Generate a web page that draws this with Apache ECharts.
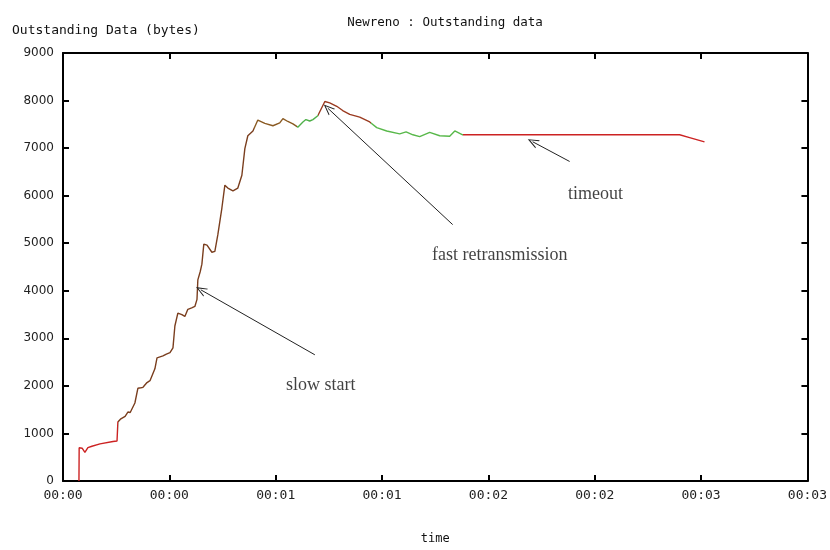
<!DOCTYPE html>
<html>
<head>
<meta charset="utf-8">
<script src="https://cdn.jsdelivr.net/npm/echarts@6/dist/echarts.min.js"></script>
<style>
  html, body { margin: 0; padding: 0; background: #fff; }
  #chart { width: 830px; height: 550px; }
</style>
</head>
<body>
<div id="chart"></div>
<script>
// Outstanding data over time for a Newreno TCP flow
const timeSec = [
  0.075, 0.076, 0.090, 0.103, 0.117, 0.136, 0.174, 0.235, 0.254, 0.258,
  0.270, 0.277, 0.292, 0.301, 0.305, 0.316, 0.324, 0.338, 0.352, 0.366,
  0.376, 0.395, 0.409, 0.432, 0.442, 0.456, 0.470, 0.486, 0.503, 0.517,
  0.526, 0.540, 0.559, 0.573, 0.587, 0.605, 0.620, 0.630, 0.634, 0.645,
  0.653, 0.662, 0.677, 0.700, 0.714, 0.728, 0.747, 0.761, 0.775, 0.799,
  0.822, 0.841, 0.855, 0.869, 0.893, 0.916, 0.949, 0.987, 1.019, 1.034,
  1.057, 1.081, 1.104, 1.128, 1.142, 1.160, 1.175, 1.198, 1.207, 1.231,
  1.254, 1.287, 1.315, 1.348, 1.395, 1.442, 1.475, 1.522, 1.583, 1.613,
  1.645, 1.677, 1.724, 1.771, 1.818, 1.842, 1.879, 2.899, 2.946, 3.016
];
const bytes = [
  0, 700, 690, 600, 700, 730, 780, 830, 840, 1240,
  1300, 1330, 1360, 1380, 1450, 1440, 1460, 1640, 1950, 1960,
  1970, 2070, 2110, 2360, 2590, 2610, 2630, 2670, 2700, 2800,
  3260, 3530, 3500, 3460, 3610, 3640, 3670, 3820, 4230, 4400,
  4560, 4980, 4960, 4810, 4830, 5180, 5740, 6220, 6160, 6100,
  6160, 6430, 6990, 7260, 7360, 7590, 7520, 7470, 7530, 7620,
  7560, 7510, 7440, 7550, 7600, 7570, 7600, 7680, 7650, 7980,
  7950, 7880, 7790, 7710, 7650, 7550, 7430, 7360, 7300, 7340,
  7280, 7240, 7330, 7260, 7250, 7360, 7280, 7280, 7220, 7130
];

// Tick settings
const xTicks = { min: 0, max: 3.5, step: 0.5 };
const yTicks = { min: 0, max: 9000, step: 1000 };

// Annotation text and arrows: [tailTime, tailBytes, tipTime, tipBytes]
const noteNames = ['slow start', 'fast retransmission', 'timeout'];
const noteTime = [1.212, 2.053, 2.504];
const noteBytes = [2010, 4740, 6020];
const arrowLines = [
  [1.184, 2654, 0.648, 4020],
  [1.832, 5392, 1.245, 7839],
  [2.382, 6719, 2.208, 7134]
];

// Colour bands along the trace
const bandEdges = [0.26, 0.9, 1.1, 1.2, 1.45, 1.88];
const bandColors = ['#cc2222', '#7a3e1e', '#8a5a22', '#4fb04a', '#9a3a20', '#58b84a', '#cc2222'];

const points = timeSec.map((t, i) => [t, bytes[i]]);

function fmtTime(v) {
  const s = Math.floor(v + 1e-9);
  const m = Math.floor(s / 60);
  const pad = n => (n < 10 ? '0' : '') + n;
  return pad(m) + ':' + pad(s % 60);
}

const pieces = [];
for (let i = 0; i < bandColors.length; i++) {
  const p = { color: bandColors[i] };
  if (i > 0) p.gte = bandEdges[i - 1];
  if (i < bandEdges.length) p.lt = bandEdges[i];
  pieces.push(p);
}

const arrowHead = 'path://M5,0 L10,11 L8.8,11 L5,2.6 L1.2,11 L0,11 Z';

const chart = echarts.init(document.getElementById('chart'), null, { renderer: 'canvas' });

const monoFont = 'DejaVu Sans Mono';
const frameLine = { show: true, onZero: false, lineStyle: { color: '#000', width: 2 } };
const tickInside = { show: true, inside: true, length: 6, lineStyle: { color: '#000', width: 2 } };

chart.setOption({
  animation: false,
  backgroundColor: '#fff',
  title: {
    text: 'Newreno : Outstanding data',
    left: 440, top: 11, textAlign: 'center',
    textStyle: { fontFamily: monoFont, fontSize: 12.5, fontWeight: 'normal', color: '#111' }
  },
  grid: { left: 63, right: 22, top: 53, bottom: 63, containLabel: false },
  graphic: [
    {
      type: 'text', left: 12, top: 24,
      style: { text: 'Outstanding Data (bytes)', font: '13px "DejaVu Sans Mono"', fill: '#111' }
    }
  ],
  visualMap: {
    show: false, type: 'piecewise', dimension: 0, seriesIndex: 0, pieces: pieces
  },
  xAxis: [
    {
      type: 'value', position: 'bottom',
      min: xTicks.min, max: xTicks.max, interval: xTicks.step,
      name: 'time', nameLocation: 'middle', nameGap: 52,
      nameTextStyle: { fontFamily: monoFont, fontSize: 12, color: '#111' },
      axisLine: frameLine, axisTick: tickInside,
      axisLabel: { formatter: fmtTime, fontFamily: monoFont, fontSize: 13, color: '#222', margin: 8 },
      splitLine: { show: false }
    },
    {
      type: 'value', position: 'top',
      min: xTicks.min, max: xTicks.max, interval: xTicks.step,
      axisLine: frameLine, axisTick: tickInside,
      axisLabel: { show: false }, splitLine: { show: false }
    }
  ],
  yAxis: [
    {
      type: 'value', position: 'left',
      min: yTicks.min, max: yTicks.max, interval: yTicks.step,
      axisLine: frameLine, axisTick: tickInside,
      axisLabel: { formatter: v => String(v), fontFamily: 'DejaVu Sans', fontSize: 12, color: '#222', margin: 9 },
      splitLine: { show: false }
    },
    {
      type: 'value', position: 'right',
      min: yTicks.min, max: yTicks.max, interval: yTicks.step,
      axisLine: frameLine, axisTick: tickInside,
      axisLabel: { show: false }, splitLine: { show: false }
    }
  ],
  series: [
    {
      type: 'line',
      data: points,
      showSymbol: false,
      symbol: 'none',
      lineStyle: { width: 1.4 },
      markLine: {
        silent: true,
        symbol: ['none', arrowHead],
        symbolSize: [9, 11],
        label: { show: false },
        lineStyle: { color: '#222', width: 1, type: 'solid' },
        data: arrowLines.map(a => [
          { coord: [a[0], a[1]] },
          { coord: [a[2], a[3]] }
        ])
      }
    },
    {
      type: 'scatter',
      symbolSize: 0,
      silent: true,
      data: noteNames.map((n, i) => ({ name: n, value: [noteTime[i], noteBytes[i]] })),
      label: {
        show: true, position: 'inside', formatter: '{b}',
        fontFamily: 'Liberation Serif', fontSize: 18, color: '#111'
      }
    }
  ]
});
</script>
</body>
</html>
